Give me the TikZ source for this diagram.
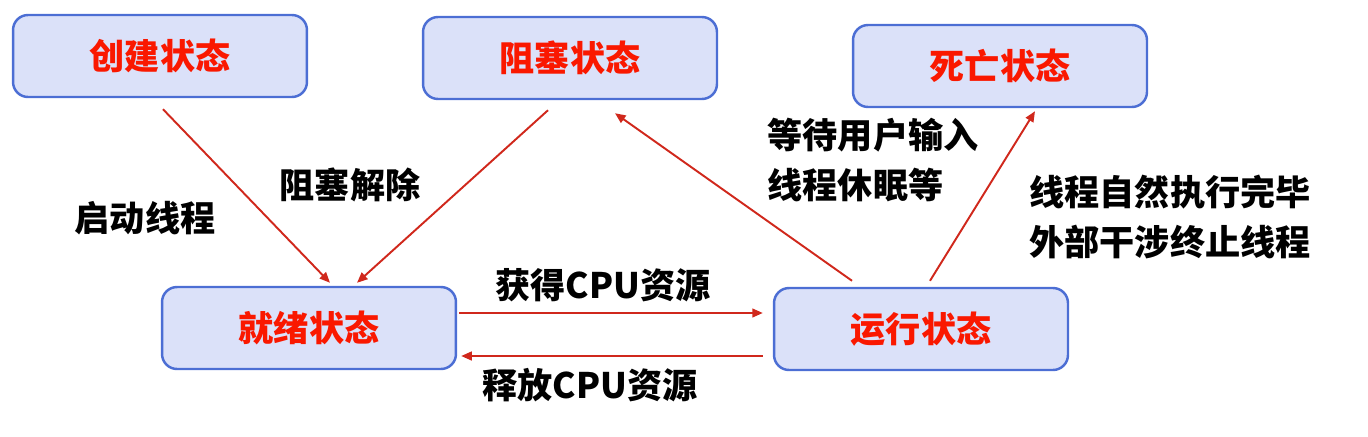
\documentclass[tikz,border=0pt]{standalone}
\usepackage{fontspec}
\setmainfont{Noto Sans CJK SC}
\usetikzlibrary{arrows.meta,calc}
\definecolor{StateBlue}{RGB}{76,110,212}
\definecolor{SoftLavender}{RGB}{219,225,249}
\definecolor{StateRed}{RGB}{250,24,0}
\definecolor{ArrowRed}{RGB}{208,40,28}
\tikzset{
  state/.style={draw=StateBlue,rounded corners=0.3cm,fill=SoftLavender,
    line width=1.4pt,minimum width=5.88cm,minimum height=1.64cm,
    text=StateRed,font=\fontsize{20}{24}\selectfont\bfseries},
  note/.style={align=left,font=\fontsize{20}{28}\selectfont\bfseries,inner sep=0pt},
  arrow/.style={-{Triangle[length=6pt,width=5pt]},line width=1.1pt,ArrowRed}
}

\begin{document}
\begin{tikzpicture}[x=0.02cm,y=-0.02cm]
  \useasboundingbox (0,0) rectangle (1368,436);
  \node[state] (create) at (160,56) {创建状态};
  \node[state] (block) at (570,58) {阻塞状态};
  \node[state] (dead) at (1000,66) {死亡状态};
  \node[state] (ready) at (309,328) {就绪状态};
  \node[state] (run) at (921,329) {运行状态};

  \draw[arrow] ($(create.south)+(3,11)$) -- ($(ready.north)+(21,-3)$);
  \draw[arrow] ($(block.south)+(-22,10)$) -- ($(ready.north)+(48,-3)$);
  \draw[arrow] ($(run.north)+(-69,-6)$) -- ($(block.south)+(45,13)$);
  \draw[arrow] ($(run.north)+(9,-6)$) -- ($(dead.south)+(35,3)$);
  \draw[arrow] ($(ready.east)+(2,-15)$) -- ($(run.west)+(-10,-16)$);
  \draw[arrow] ($(run.west)+(-10,27)$) -- ($(ready.east)+(4,28)$);

  \node[note] (start) at (145,218) {启动线程};
  \node[note] (unblock) at (350,185) {阻塞解除};
  \node[note] (wait) at (873,160) {等待用户输入\\线程休眠等};
  \node[note] (finish) at (1170,217) {线程自然执行完毕\\外部干涉终止线程};
  \node[note] (gain) at (603,285) {获得CPU资源};
  \node[note] (free) at (590,385) {释放CPU资源};
\end{tikzpicture}
\end{document}
